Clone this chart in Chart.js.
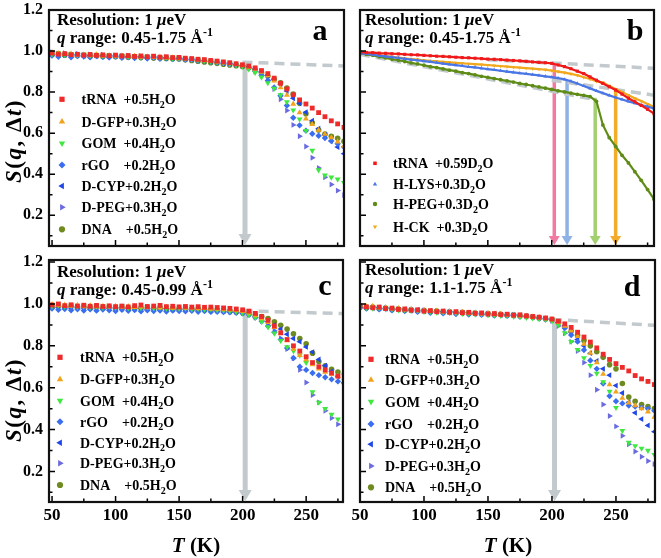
<!DOCTYPE html>
<html>
<head>
<meta charset="utf-8">
<title>S(q, Δt) x T</title>
<script src="https://cdn.jsdelivr.net/npm/chart.js@4.4.1/dist/chart.umd.min.js"></script>
<style>
  html, body { margin: 0; padding: 0; background: #fff; }
  #fig { position: relative; width: 661px; height: 558px; overflow: hidden; }
  #fig canvas { position: absolute; }
</style>
</head>
<body>
<div id="fig">
  <canvas id="painelA" width="350" height="252" style="left:0;top:0"></canvas>
  <canvas id="painelB" width="311" height="252" style="left:350px;top:0"></canvas>
  <canvas id="painelC" width="350" height="306" style="left:0;top:252px"></canvas>
  <canvas id="painelD" width="311" height="306" style="left:350px;top:252px"></canvas>
</div>
<script>
// Temperaturas (K) usadas em todos os painéis
const tempK = [50,55,60,65,70,75,80,85,90,95,100,105,110,115,120,125,130,135,140,145,150,155,160,165,170,175,180,185,190,195,200,205,210,215,220,225,230,235,240,245,250,255,260,265,270,275,280];

// Painel a: q 0.45-1.75
const tRNA_a = [0.990,0.985,0.987,0.982,0.984,0.980,0.983,0.979,0.981,0.977,0.980,0.976,0.978,0.974,0.976,0.972,0.975,0.970,0.972,0.968,0.969,0.965,0.963,0.960,0.958,0.954,0.951,0.947,0.943,0.938,0.933,0.927,0.918,0.905,0.890,0.868,0.843,0.815,0.787,0.762,0.742,0.722,0.700,0.680,0.660,0.645,0.628];
const dGFP_a = [0.992,0.988,0.984,0.986,0.981,0.983,0.978,0.982,0.976,0.979,0.975,0.977,0.973,0.975,0.971,0.973,0.969,0.971,0.967,0.968,0.964,0.963,0.960,0.957,0.954,0.951,0.947,0.944,0.940,0.936,0.930,0.922,0.912,0.898,0.880,0.855,0.822,0.785,0.742,0.700,0.670,0.643,0.615,0.595,0.578,0.558,0.537];
const gom_a = [0.985,0.990,0.983,0.986,0.980,0.984,0.979,0.981,0.977,0.980,0.975,0.977,0.974,0.976,0.971,0.973,0.970,0.968,0.969,0.965,0.966,0.962,0.960,0.956,0.953,0.950,0.946,0.942,0.938,0.933,0.926,0.912,0.895,0.872,0.845,0.818,0.786,0.752,0.712,0.668,0.612,0.515,0.420,0.395,0.385,0.375,0.358];
const rGO_a = [0.978,0.972,0.980,0.970,0.976,0.973,0.969,0.975,0.971,0.968,0.973,0.967,0.970,0.966,0.969,0.964,0.967,0.962,0.965,0.961,0.962,0.958,0.957,0.953,0.951,0.948,0.944,0.941,0.937,0.933,0.928,0.918,0.902,0.882,0.856,0.822,0.782,0.735,0.675,0.638,0.612,0.597,0.587,0.576,0.562,0.548,0.532];
const dCYP_a = [0.986,0.981,0.984,0.978,0.982,0.977,0.980,0.976,0.978,0.974,0.977,0.972,0.975,0.971,0.973,0.969,0.971,0.967,0.968,0.965,0.965,0.962,0.959,0.956,0.953,0.949,0.946,0.942,0.938,0.934,0.929,0.922,0.912,0.898,0.882,0.862,0.838,0.805,0.770,0.745,0.702,0.660,0.622,0.592,0.562,0.532,0.500];
const dPEG_a = [0.995,0.988,0.990,0.984,0.987,0.981,0.984,0.979,0.982,0.977,0.979,0.975,0.977,0.973,0.975,0.971,0.973,0.969,0.970,0.966,0.967,0.963,0.961,0.957,0.955,0.951,0.948,0.943,0.939,0.934,0.928,0.918,0.900,0.880,0.858,0.815,0.765,0.710,0.640,0.585,0.535,0.480,0.430,0.385,0.350,0.320,0.298];
const dna_a = [0.983,0.987,0.980,0.983,0.978,0.981,0.976,0.979,0.974,0.977,0.972,0.975,0.970,0.973,0.968,0.970,0.966,0.967,0.964,0.962,0.961,0.957,0.954,0.950,0.947,0.943,0.940,0.936,0.932,0.928,0.925,0.918,0.910,0.895,0.878,0.862,0.845,0.820,0.790,0.745,0.695,0.650,0.615,0.595,0.585,0.575,0.560];

// Painel b: amostras em D2O
const tRNA_b = [0.995,0.993,0.992,0.990,0.989,0.987,0.986,0.984,0.982,0.981,0.979,0.977,0.975,0.974,0.972,0.970,0.968,0.967,0.965,0.963,0.961,0.960,0.958,0.956,0.954,0.952,0.950,0.947,0.945,0.943,0.940,0.932,0.924,0.914,0.902,0.890,0.874,0.858,0.842,0.826,0.810,0.790,0.770,0.753,0.735,0.716,0.695];
const hLYS_b = [0.990,0.986,0.982,0.978,0.974,0.970,0.966,0.962,0.958,0.955,0.951,0.947,0.943,0.939,0.935,0.931,0.927,0.923,0.920,0.916,0.912,0.908,0.904,0.900,0.896,0.892,0.889,0.885,0.881,0.877,0.873,0.868,0.862,0.853,0.842,0.830,0.818,0.806,0.795,0.784,0.774,0.764,0.755,0.746,0.737,0.729,0.720];
const hPEG_b = [0.990,0.984,0.979,0.972,0.967,0.960,0.955,0.949,0.942,0.937,0.931,0.924,0.919,0.913,0.907,0.902,0.895,0.890,0.884,0.877,0.872,0.866,0.860,0.855,0.849,0.842,0.837,0.831,0.825,0.819,0.813,0.806,0.801,0.795,0.789,0.784,0.778,0.755,0.640,0.578,0.535,0.492,0.455,0.412,0.370,0.325,0.278];
const hCK_b = [0.995,0.990,0.985,0.980,0.976,0.972,0.968,0.964,0.961,0.958,0.955,0.952,0.950,0.947,0.945,0.942,0.940,0.938,0.936,0.934,0.932,0.929,0.927,0.924,0.922,0.919,0.917,0.914,0.912,0.909,0.905,0.900,0.895,0.889,0.882,0.872,0.864,0.853,0.846,0.830,0.815,0.800,0.785,0.770,0.756,0.742,0.728];

// Painel c: q 0.45-0.99
const tRNA_c = [0.995,1.000,0.992,0.996,0.990,0.994,0.989,0.993,0.988,0.991,0.987,0.990,0.986,0.992,0.995,0.988,0.990,0.993,0.987,0.989,0.986,0.988,0.985,0.987,0.984,0.985,0.983,0.981,0.979,0.976,0.972,0.966,0.955,0.940,0.922,0.895,0.862,0.830,0.800,0.775,0.748,0.720,0.700,0.685,0.670,0.655,0.645];
const dGFP_c = [0.998,0.992,0.995,0.990,0.994,0.988,0.992,0.987,0.990,0.986,0.989,0.985,0.988,0.984,0.987,0.983,0.986,0.982,0.985,0.981,0.983,0.980,0.981,0.978,0.979,0.976,0.976,0.973,0.972,0.969,0.965,0.958,0.945,0.930,0.912,0.888,0.860,0.825,0.785,0.755,0.735,0.710,0.690,0.675,0.665,0.655,0.645];
const gom_c = [0.990,0.995,0.988,0.993,0.986,0.991,0.985,0.990,0.984,0.988,0.983,0.989,0.982,0.987,0.981,0.986,0.980,0.984,0.979,0.982,0.978,0.980,0.976,0.978,0.974,0.975,0.972,0.970,0.967,0.963,0.958,0.948,0.935,0.915,0.890,0.860,0.825,0.795,0.775,0.755,0.720,0.580,0.530,0.500,0.472,0.450,0.432];
const rGO_c = [0.978,0.972,0.976,0.970,0.975,0.969,0.974,0.968,0.973,0.970,0.966,0.972,0.967,0.971,0.965,0.970,0.966,0.969,0.964,0.968,0.966,0.965,0.967,0.963,0.966,0.962,0.963,0.961,0.960,0.958,0.955,0.948,0.935,0.918,0.895,0.865,0.830,0.790,0.742,0.700,0.685,0.670,0.660,0.650,0.640,0.630,0.620];
const dCYP_c = [0.988,0.983,0.986,0.981,0.985,0.980,0.984,0.979,0.983,0.978,0.982,0.977,0.981,0.976,0.980,0.975,0.979,0.975,0.978,0.974,0.976,0.973,0.974,0.971,0.972,0.969,0.968,0.966,0.964,0.962,0.958,0.950,0.940,0.928,0.915,0.900,0.880,0.855,0.835,0.820,0.795,0.770,0.735,0.705,0.678,0.655,0.625];
const dPEG_c = [0.990,0.985,0.988,0.983,0.986,0.981,0.985,0.980,0.984,0.979,0.983,0.978,0.982,0.977,0.981,0.976,0.980,0.975,0.978,0.974,0.977,0.973,0.975,0.971,0.972,0.969,0.967,0.964,0.962,0.960,0.956,0.948,0.935,0.918,0.898,0.872,0.835,0.785,0.740,0.685,0.625,0.565,0.530,0.490,0.455,0.425,0.400];
const dna_c = [0.985,0.990,0.984,0.988,0.983,0.987,0.982,0.986,0.981,0.985,0.980,0.984,0.979,0.983,0.978,0.982,0.977,0.980,0.976,0.979,0.975,0.977,0.974,0.975,0.972,0.972,0.970,0.968,0.966,0.963,0.960,0.955,0.948,0.940,0.930,0.915,0.898,0.880,0.858,0.835,0.810,0.765,0.725,0.705,0.688,0.675,0.665];

// Painel d: q 1.1-1.75
const tRNA_d = [0.990,0.986,0.982,0.985,0.978,0.980,0.974,0.976,0.970,0.972,0.966,0.968,0.963,0.966,0.960,0.963,0.958,0.960,0.955,0.957,0.952,0.954,0.949,0.951,0.946,0.948,0.943,0.940,0.937,0.933,0.928,0.918,0.905,0.888,0.865,0.842,0.818,0.790,0.760,0.735,0.715,0.697,0.680,0.658,0.642,0.630,0.615];
const dGFP_d = [0.995,0.988,0.990,0.982,0.984,0.977,0.979,0.972,0.975,0.968,0.970,0.965,0.967,0.962,0.964,0.959,0.961,0.956,0.958,0.953,0.955,0.950,0.952,0.947,0.948,0.944,0.942,0.938,0.934,0.930,0.925,0.912,0.895,0.872,0.845,0.808,0.765,0.720,0.665,0.615,0.580,0.550,0.528,0.515,0.500,0.485,0.460];
const gom_d = [0.985,0.983,0.979,0.980,0.975,0.976,0.971,0.972,0.967,0.968,0.963,0.964,0.960,0.961,0.957,0.958,0.954,0.955,0.950,0.952,0.947,0.948,0.944,0.944,0.940,0.938,0.935,0.932,0.928,0.924,0.918,0.900,0.862,0.820,0.782,0.742,0.705,0.668,0.628,0.582,0.505,0.395,0.338,0.322,0.310,0.300,0.280];
const rGO_d = [0.982,0.978,0.985,0.974,0.980,0.970,0.976,0.966,0.972,0.962,0.968,0.958,0.964,0.955,0.962,0.952,0.958,0.950,0.956,0.948,0.952,0.945,0.950,0.943,0.947,0.940,0.943,0.936,0.934,0.928,0.923,0.910,0.885,0.852,0.820,0.780,0.730,0.690,0.620,0.560,0.535,0.525,0.515,0.510,0.505,0.500,0.490];
const dCYP_d = [0.988,0.984,0.981,0.983,0.977,0.979,0.973,0.975,0.969,0.971,0.965,0.967,0.962,0.964,0.959,0.961,0.956,0.958,0.953,0.955,0.950,0.952,0.947,0.949,0.944,0.945,0.941,0.937,0.933,0.929,0.924,0.912,0.895,0.865,0.830,0.800,0.765,0.728,0.690,0.660,0.610,0.575,0.530,0.480,0.450,0.420,0.390];
const dPEG_d = [0.993,0.987,0.984,0.980,0.981,0.975,0.977,0.971,0.973,0.967,0.969,0.964,0.966,0.961,0.963,0.958,0.960,0.955,0.957,0.952,0.954,0.949,0.951,0.946,0.947,0.943,0.940,0.936,0.932,0.927,0.920,0.895,0.860,0.820,0.775,0.720,0.660,0.590,0.520,0.465,0.415,0.370,0.330,0.295,0.270,0.250,0.235];
const dna_d = [0.986,0.982,0.985,0.978,0.980,0.974,0.976,0.970,0.972,0.967,0.969,0.964,0.966,0.961,0.963,0.958,0.960,0.955,0.957,0.952,0.954,0.949,0.951,0.946,0.948,0.944,0.941,0.938,0.934,0.930,0.926,0.912,0.890,0.870,0.850,0.825,0.800,0.772,0.745,0.710,0.690,0.620,0.555,0.535,0.520,0.510,0.500];

// Legendas ({_x} = subscrito, {^x} = sobrescrito, {/x} = itálico)
const nomesH2O = ['tRNA  +0.5H{_2}O', 'D-GFP+0.3H{_2}O', 'GOM  +0.4H{_2}O', 'rGO    +0.2H{_2}O', 'D-CYP+0.2H{_2}O', 'D-PEG+0.3H{_2}O', 'DNA    +0.5H{_2}O'];
const nomesD2O = ['tRNA  +0.59D{_2}O', 'H-LYS+0.3D{_2}O', 'H-PEG+0.3D{_2}O', 'H-CK  +0.3D{_2}O'];
const titulosQ = ['{/q} range: 0.45-1.75 Å{^-1}', '{/q} range: 0.45-1.75 Å{^-1}', '{/q} range: 0.45-0.99 Å{^-1}', '{/q} range: 1.1-1.75 Å{^-1}'];

// Marcações dos eixos
const xMajorTicks = [50, 100, 150, 200, 250];
const xMinorTicks = [75, 125, 175, 225, 275];
const yMajorTicks = [0.2, 0.4, 0.6, 0.8, 1.0, 1.2];
const yMinorTicks = [0.1, 0.3, 0.5, 0.7, 0.9, 1.1];

// Retas tracejadas (ajustes lineares) e setas
const fitA_T = [200, 280], fitA_S = [0.946, 0.927];
const fitC_T = [200, 279], fitC_S = [0.967, 0.954];
const fitD_T = [200, 280], fitD_S = [0.926, 0.898];
const fitB1_T = [150, 280], fitB1_S = [0.958, 0.916];
const fitB2_T = [200, 280], fitB2_S = [0.858, 0.785];
const fitB3_T = [50, 235], fitB3_S = [0.984, 0.762];
const setaT = 202;
const setaTopo_a = 0.946, setaTopo_c = 0.967, setaTopo_d = 0.926;
const setasT_b = [202, 212, 234, 250];
const setasTopo_b = [0.941, 0.858, 0.772, 0.812];

// Estilos
const FAMILIA = '"Liberation Serif", "Times New Roman", serif';
const estilosH2O = [
  { cor: '#ee2a2a', forma: 'rect', rot: 0, r: 3.4 },
  { cor: '#f2a31b', forma: 'triangle', rot: 0, r: 3.4 },
  { cor: '#3ee83e', forma: 'triangle', rot: 180, r: 3.4 },
  { cor: '#3a6ef0', forma: 'rectRot', rot: 0, r: 3.2 },
  { cor: '#1f46e6', forma: 'triangle', rot: 270, r: 3.4 },
  { cor: '#6b6be0', forma: 'triangle', rot: 90, r: 3.4 },
  { cor: '#6f8a1f', forma: 'circle', rot: 0, r: 2.8 }
];
const estilosD2O = [
  { cor: '#f01818', forma: 'rect', rot: 0, r: 2.2 },
  { cor: '#4a76e6', forma: 'triangle', rot: 0, r: 2.2 },
  { cor: '#5e8c16', forma: 'circle', rot: 0, r: 1.9 },
  { cor: '#f2a81c', forma: 'triangle', rot: 180, r: 2.2 }
];
const corSetasB = ['#f07aa0', '#8fb2e6', '#a3cf6f', '#f2ac2a'];
const CINZA = '#c2cacd';

// Texto com itálico, subscrito e sobrescrito
function textoRico(ctx, str, x, y, size, align) {
  const partes = [];
  const re = /\{([\/_^])([^}]*)\}|([^{]+)/g;
  let m;
  while ((m = re.exec(str)) !== null) {
    if (m[3] !== undefined) partes.push({ t: m[3], k: '' });
    else partes.push({ t: m[2], k: m[1] });
  }
  const fonte = k => (k === '/' ? 'italic ' : '') + 'bold ' + (k === '_' || k === '^' ? Math.round(size * 0.68) : size) + 'px ' + FAMILIA;
  let total = 0;
  partes.forEach(p => { ctx.font = fonte(p.k); p.w = ctx.measureText(p.t).width; total += p.w; });
  let cx = align === 'center' ? x - total / 2 : x;
  ctx.textAlign = 'left';
  ctx.textBaseline = 'alphabetic';
  partes.forEach(p => {
    ctx.font = fonte(p.k);
    const dy = p.k === '_' ? size * 0.25 : (p.k === '^' ? -size * 0.4 : 0);
    ctx.fillText(p.t, cx, y + dy);
    cx += p.w;
  });
}

function seta(ctx, px, yTopo, yBase, cor, larg, cabL, cabA) {
  ctx.strokeStyle = cor;
  ctx.fillStyle = cor;
  ctx.lineWidth = larg;
  ctx.beginPath();
  ctx.moveTo(px, yTopo);
  ctx.lineTo(px, yBase - cabA + 1);
  ctx.stroke();
  ctx.beginPath();
  ctx.moveTo(px - cabL / 2, yBase - cabA);
  ctx.lineTo(px + cabL / 2, yBase - cabA);
  ctx.lineTo(px, yBase);
  ctx.closePath();
  ctx.fill();
}

function marcador(ctx, st, x, y) {
  ctx.fillStyle = st.cor;
  if (Chart.helpers && Chart.helpers.drawPoint) {
    Chart.helpers.drawPoint(ctx, { pointStyle: st.forma, rotation: st.rot, radius: st.r + 0.3, borderWidth: 0 }, x, y);
  } else {
    ctx.beginPath(); ctx.arc(x, y, st.r, 0, Math.PI * 2); ctx.fill();
  }
}

// Plugin que desenha moldura, marcas, setas, legenda e textos
function decoracao(cfg) {
  return {
    id: 'decoracao',
    beforeDatasetsDraw(chart) {
      const { ctx, chartArea: a, scales: { x, y } } = chart;
      ctx.save();
      cfg.setas.forEach(s => {
        seta(ctx, x.getPixelForValue(s.t), y.getPixelForValue(s.topo), a.bottom - 1, s.cor, s.larg, s.cabL, s.cabA);
      });
      ctx.restore();
    },
    afterDatasetsDraw(chart) {
      const { ctx, chartArea: a, scales: { x, y } } = chart;
      ctx.save();
      // marcas internas
      ctx.strokeStyle = '#000';
      ctx.lineWidth = 1.5;
      ctx.beginPath();
      xMajorTicks.concat(xMinorTicks).forEach(v => {
        if (v < x.min || v > x.max) return;
        const px = x.getPixelForValue(v);
        const len = xMajorTicks.includes(v) ? 6 : 3.5;
        ctx.moveTo(px, a.bottom); ctx.lineTo(px, a.bottom - len);
      });
      yMajorTicks.concat(yMinorTicks).forEach(v => {
        if (v < y.min || v > y.max) return;
        const py = y.getPixelForValue(v);
        const len = yMajorTicks.includes(v) ? 6 : 3.5;
        ctx.moveTo(a.left, py); ctx.lineTo(a.left + len, py);
      });
      ctx.stroke();
      // moldura
      ctx.lineWidth = 2.2;
      ctx.strokeStyle = '#111';
      ctx.strokeRect(a.left, a.top, a.right - a.left, a.bottom - a.top);

      ctx.fillStyle = '#000';
      textoRico(ctx, 'Resolution: 1 {/μ}eV', cfg.tituloX, cfg.tituloY[0] + 6, 17, 'left');
      textoRico(ctx, cfg.tituloQ, cfg.tituloX, cfg.tituloY[1] + 6, 17, 'left');
      textoRico(ctx, cfg.letra, cfg.letraPos[0], cfg.letraPos[1], 30, 'center');

      // legenda
      cfg.nomes.forEach((nome, i) => {
        const yy = cfg.legenda.linhas[i];
        marcador(ctx, cfg.estilos[i], cfg.legenda.mx, yy);
        ctx.fillStyle = '#000';
        textoRico(ctx, nome, cfg.legenda.tx, yy + 5, 14, 'left');
      });

      if (cfg.tituloYPos) {
        ctx.save();
        ctx.translate(cfg.tituloYPos[0], cfg.tituloYPos[1]);
        ctx.rotate(-Math.PI / 2);
        ctx.letterSpacing = '1.5px';
        textoRico(ctx, '{/S}({/q}, Δ{/t})', 0, 8, 23, 'center');
        ctx.restore();
      }
      if (cfg.tituloXPos) {
        textoRico(ctx, '{/T} (K)', cfg.tituloXPos[0], cfg.tituloXPos[1] + 7, 21, 'center');
      }
      ctx.restore();
    }
  };
}

function montarPainel(id, cfg) {
  const canvas = document.getElementById(id);
  const W = canvas.width, H = canvas.height;
  const datasets = cfg.series.map((vals, i) => {
    const st = cfg.estilos[i];
    return {
      label: cfg.nomes[i],
      data: tempK.map((t, j) => ({ x: t, y: vals[j] })),
      pointBackgroundColor: st.cor,
      backgroundColor: st.cor,
      borderColor: st.cor,
      pointStyle: st.forma,
      pointRotation: st.rot,
      pointRadius: st.r,
      pointHoverRadius: st.r,
      pointBorderWidth: 0,
      showLine: !!cfg.linhas,
      borderWidth: cfg.linhas ? 2.2 : 0,
      fill: false,
      order: 1
    };
  });
  cfg.ajustes.forEach(f => datasets.push({
    data: f.T.map((t, j) => ({ x: t, y: f.S[j] })),
    showLine: true,
    borderColor: CINZA,
    borderWidth: 3.5,
    borderDash: [10, 6],
    pointRadius: 0,
    fill: false,
    order: 9
  }));

  const area = cfg.area;
  return new Chart(canvas.getContext('2d'), {
    type: 'scatter',
    data: { datasets },
    options: {
      responsive: false,
      animation: false,
      events: [],
      layout: { padding: { left: 0, top: area.top, right: W - area.right, bottom: 0 } },
      plugins: { legend: { display: false }, tooltip: { enabled: false } },
      scales: {
        x: {
          type: 'linear', min: cfg.xMin, max: cfg.xMax,
          grid: { display: false, drawTicks: false },
          border: { display: false },
          ticks: { display: cfg.rotulosX, color: '#000', padding: 3, maxRotation: 0,
                   font: { family: FAMILIA, size: 17, weight: 'bold' } },
          afterBuildTicks: s => { s.ticks = xMajorTicks.map(v => ({ value: v })); },
          afterFit: s => { s.height = H - area.bottom; s.paddingLeft = 0; s.paddingRight = 0; }
        },
        y: {
          type: 'linear', min: cfg.yMin, max: cfg.yMax,
          grid: { display: false, drawTicks: false },
          border: { display: false },
          ticks: { display: cfg.rotulosY, color: '#000', padding: 6,
                   font: { family: FAMILIA, size: 16, weight: 'bold' },
                   callback: v => v.toFixed(1) },
          afterBuildTicks: s => { s.ticks = yMajorTicks.map(v => ({ value: v })); },
          afterFit: s => { s.width = area.left; s.paddingTop = 0; s.paddingBottom = 0; }
        }
      }
    },
    plugins: [decoracao(cfg)]
  });
}

const setaCinza = { larg: 5, cabL: 13, cabA: 11, cor: CINZA };

montarPainel('painelA', {
  series: [tRNA_a, dGFP_a, gom_a, rGO_a, dCYP_a, dPEG_a, dna_a],
  estilos: estilosH2O, nomes: nomesH2O,
  xMin: 47.6, xMax: 280, yMin: 0.05, yMax: 1.2,
  area: { left: 49, top: 10, right: 344, bottom: 246 },
  rotulosX: false, rotulosY: true,
  ajustes: [{ T: fitA_T, S: fitA_S }],
  setas: [Object.assign({ t: setaT, topo: setaTopo_a }, setaCinza)],
  tituloX: 57, tituloY: [19, 37], tituloQ: titulosQ[0],
  letra: 'a', letraPos: [320, 39.5],
  legenda: { mx: 62, tx: 81.5, linhas: [99.3, 121.7, 143.3, 165, 186, 207.3, 229.3] },
  tituloYPos: [13, 141]
});

montarPainel('painelB', {
  series: [tRNA_b, hLYS_b, hPEG_b, hCK_b],
  estilos: estilosD2O, nomes: nomesD2O, linhas: true,
  xMin: 50, xMax: 280, yMin: 0.05, yMax: 1.2,
  area: { left: 10, top: 10, right: 304, bottom: 246 },
  rotulosX: false, rotulosY: false,
  ajustes: [{ T: fitB1_T, S: fitB1_S }, { T: fitB2_T, S: fitB2_S }, { T: fitB3_T, S: fitB3_S }],
  setas: setasT_b.map((t, i) => ({ t, topo: setasTopo_b[i], cor: corSetasB[i], larg: 3.5, cabL: 11, cabA: 9 })),
  tituloX: 15, tituloY: [19, 37], tituloQ: titulosQ[1],
  letra: 'b', letraPos: [285, 39.5],
  legenda: { mx: 25, tx: 43, linhas: [163.3, 184.3, 204, 226.7] }
});

montarPainel('painelC', {
  series: [tRNA_c, dGFP_c, gom_c, rGO_c, dCYP_c, dPEG_c, dna_c],
  estilos: estilosH2O, nomes: nomesH2O,
  xMin: 47.6, xMax: 279, yMin: 0.054, yMax: 1.21,
  area: { left: 49, top: 8, right: 343, bottom: 250 },
  rotulosX: true, rotulosY: true,
  ajustes: [{ T: fitC_T, S: fitC_S }],
  setas: [Object.assign({ t: setaT, topo: setaTopo_c }, setaCinza)],
  tituloX: 57, tituloY: [19, 37], tituloQ: titulosQ[2],
  letra: 'c', letraPos: [325, 43],
  legenda: { mx: 60, tx: 80, linhas: [105.3, 127.3, 148.7, 169.7, 190.7, 211.3, 233] },
  tituloYPos: [13, 148], tituloXPos: [196, 293]
});

montarPainel('painelD', {
  series: [tRNA_d, dGFP_d, gom_d, rGO_d, dCYP_d, dPEG_d, dna_d],
  estilos: estilosH2O, nomes: nomesH2O,
  xMin: 50, xMax: 280.5, yMin: 0.054, yMax: 1.21,
  area: { left: 10, top: 8, right: 305, bottom: 250 },
  rotulosX: true, rotulosY: false,
  ajustes: [{ T: fitD_T, S: fitD_S }],
  setas: [Object.assign({ t: setaT, topo: setaTopo_d }, setaCinza)],
  tituloX: 15, tituloY: [17, 35], tituloQ: titulosQ[3],
  letra: 'd', letraPos: [282, 44],
  legenda: { mx: 21, tx: 35, linhas: [107.3, 128, 149.7, 172, 192.3, 214, 235.3] },
  tituloXPos: [158, 293]
});
</script>
</body>
</html>
